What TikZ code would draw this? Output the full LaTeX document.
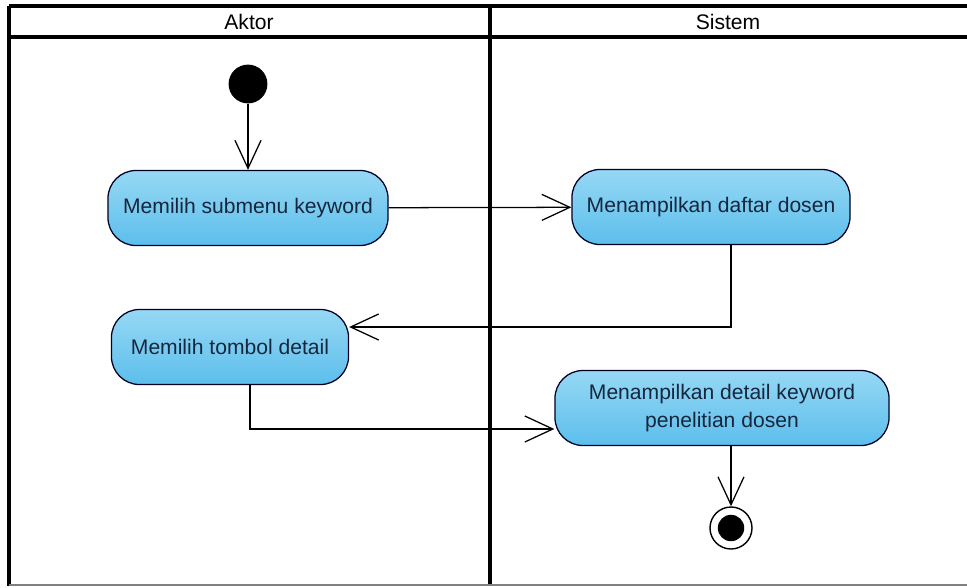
\documentclass[tikz,border=0pt]{standalone}
\usepackage{fontspec}
\setmainfont{Liberation Sans}
\usetikzlibrary{arrows.meta}
\definecolor{acttop}{RGB}{150,216,244}
\definecolor{actbot}{RGB}{92,190,236}
\definecolor{acttext}{RGB}{22,38,62}

\begin{document}
\begin{tikzpicture}[x=0.025cm,y=-0.025cm,
  >={Straight Barb[length=0.7cm,width=0.65cm]},
  act node/.style={rectangle,rounded corners=0.7cm,draw=black!85!blue,line width=0.9pt,
    top color=acttop,bottom color=actbot,text=acttext,align=center,
    minimum height=1.875cm,inner sep=0pt,font=\fontsize{15}{20}\selectfont},
  start node/.style={circle,fill=black,minimum size=0.97cm,inner sep=0pt},
  end node/.style={circle,draw,line width=1pt,fill=white,minimum size=1.05cm,inner sep=0pt,
    path picture={\fill[black] (path picture bounding box.center) circle (0.33cm);}},
  lane title/.style={font=\fontsize{15}{18}\selectfont},
  lane/.style={line width=2.6pt}]
  \useasboundingbox[fill=white] (0,0) rectangle (967,587);

  % swimlanes
  \draw[lane] (9,6) -- (967,6);
  \draw[lane] (9,37) -- (967,37);
  \draw[lane] (9,6) -- (9,586);
  \draw[lane] (490,6) -- (490,586);
  \draw[gray,line width=1pt] (9,585) -- (967,585);
  \node[lane title] (aktor) at (249,22) {Aktor};
  \node[lane title] (sistem) at (728,22) {Sistem};

  \node[start node] (0) at (248,84) {};
  \node[act node,minimum width=7cm] (1) at (248,208) {Memilih submenu keyword};
  \node[act node,minimum width=6.95cm] (2) at (711,207) {Menampilkan daftar dosen};
  \node[act node,minimum width=5.925cm] (3) at (230,347) {Memilih tombol detail};
  \node[act node,minimum width=8.35cm] (4) at (722,408) {Menampilkan detail keyword\\penelitian dosen};
  \node[end node] (5) at (731,528) {};

  \path[->,line width=0.9pt]
    (0) edge (1)
    (1) edge (2)
    (2.south -| 5) edge [to path={|- (\tikztotarget)}] ([yshift=0.5cm]3.east)
    ([xshift=0.5cm]3.south) edge [to path={|- (\tikztotarget)}] ([yshift=-0.525cm]4.west)
    (4.south -| 5) edge (5);
\end{tikzpicture}
\end{document}
